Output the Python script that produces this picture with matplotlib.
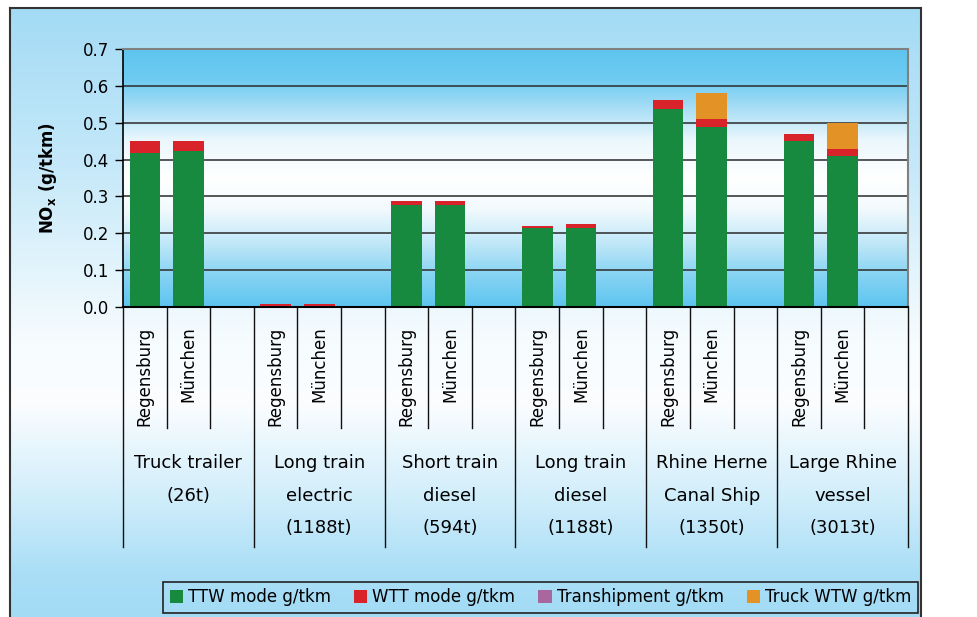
import numpy as np
import matplotlib
matplotlib.use("Agg")
import matplotlib.pyplot as plt
from matplotlib.colors import LinearSegmentedColormap
from matplotlib.patches import Patch

# ---------------------------------------------------------------------------
# Data (NOx in g/tkm, two terminals per transport mode)
# ---------------------------------------------------------------------------
modes = [
    "Truck trailer\n(26t)",
    "Long train\nelectric\n(1188t)",
    "Short train\ndiesel\n(594t)",
    "Long train\ndiesel\n(1188t)",
    "Rhine Herne\nCanal Ship\n(1350t)",
    "Large Rhine\nvessel\n(3013t)",
]
sites = ["Regensburg", "München"]

ttw_mode = [0.418, 0.423, 0.0, 0.0, 0.277, 0.277, 0.215, 0.215, 0.537, 0.488, 0.450, 0.411]
wtt_mode = [0.032, 0.027, 0.008, 0.008, 0.011, 0.011, 0.005, 0.010, 0.025, 0.022, 0.019, 0.018]
transhipment = [0.0] * 12
truck_wtw = [0.0, 0.0, 0.0, 0.0, 0.0, 0.0, 0.0, 0.0, 0.0, 0.070, 0.0, 0.070]

series_names = ["TTW mode g/tkm", "WTT mode g/tkm", "Transhipment g/tkm", "Truck WTW g/tkm"]
series_colors = ["#178a40", "#d9232b", "#a8679e", "#e39225"]

y_ticks = [0.0, 0.1, 0.2, 0.3, 0.4, 0.5, 0.6, 0.7]

# ---------------------------------------------------------------------------
# Figure + outer panel
# ---------------------------------------------------------------------------
W, H = 977, 617
fig = plt.figure(figsize=(W / 100, H / 100), dpi=100)
fig.patch.set_facecolor("white")


def fx(px):
    return px / W


def fy(py):
    return 1 - py / H


panel = fig.add_axes([fx(10), 0, fx(911), 609 / H], zorder=-1)
panel_cmap = LinearSegmentedColormap.from_list(
    "panel",
    [(0.0, "#a3dbf5"), (0.25, "#c4e8f9"), (0.55, "#f7fcfe"), (0.65, "#fbfdff"),
     (0.8, "#d2eefb"), (0.93, "#a9def6"), (1.0, "#a3dbf5")],
)
panel.imshow(np.linspace(0, 1, 256).reshape(-1, 1), cmap=panel_cmap,
             aspect="auto", extent=(0, 1, 0, 1), origin="upper")
panel.set_xlim(0, 1)
panel.set_ylim(0, 1)
panel.set_xticks([])
panel.set_yticks([])
for side in ["left", "top", "right"]:
    panel.spines[side].set_color("#333333")
    panel.spines[side].set_linewidth(1.5)
panel.spines["bottom"].set_visible(False)

# ---------------------------------------------------------------------------
# Main axes
# ---------------------------------------------------------------------------
ax = fig.add_axes([fx(123), fy(307), fx(785), 258 / H], zorder=1)
ax.set_facecolor("none")

n_slots = len(modes) * 3
ax.set_xlim(0, n_slots)
ax.set_ylim(0, 0.7)

plot_cmap = LinearSegmentedColormap.from_list(
    "plotbg",
    [(0.0, "#5ec5ef"), (0.12, "#6fcbf1"), (0.25, "#b3e2f7"), (0.35, "#eaf7fd"),
     (0.5, "#ffffff"), (0.62, "#f2fafe"), (0.75, "#c2e8f8"), (0.88, "#85d3f3"),
     (1.0, "#5ec5ef")],
)
ax.imshow(np.linspace(0, 1, 256).reshape(-1, 1), cmap=plot_cmap, aspect="auto",
          extent=(0, n_slots, 0, 0.7), origin="upper", zorder=0)

for yv in y_ticks[1:-1]:
    ax.axhline(yv, color="#2a2a2a", lw=1.1, zorder=1)

# stacked bars: two bars per mode, third slot of each group left empty
x_pos = []
for g in range(len(modes)):
    x_pos += [g * 3 + 0.5, g * 3 + 1.5]
x_pos = np.array(x_pos)

bottom = np.zeros(len(x_pos))
for vals, color in zip([ttw_mode, wtt_mode, transhipment, truck_wtw], series_colors):
    vals = np.array(vals)
    ax.bar(x_pos, vals, width=0.7, bottom=bottom, color=color, zorder=2)
    bottom += vals

# spines and y axis
ax.spines["left"].set_color("black")
ax.spines["left"].set_linewidth(1.2)
ax.spines["bottom"].set_color("black")
ax.spines["bottom"].set_linewidth(1.5)
for side in ["top", "right"]:
    ax.spines[side].set_color("#808080")
    ax.spines[side].set_linewidth(1.5)

ax.set_yticks(y_ticks)
ax.set_yticklabels([f"{v:.1f}" for v in y_ticks])
ax.tick_params(axis="y", direction="out", length=6, width=1, pad=4, labelsize=12)
ax.set_xticks([])

fig.text(fx(48), fy(178), "NO$_\\mathregular{x}$ (g/tkm)", rotation=90,
         ha="center", va="center", fontsize=12, fontweight="bold")

# category axis below the plot
xt = ax.get_xaxis_transform()
for s in range(n_slots + 1):
    y_end = -0.93 if s % 3 == 0 else -0.47
    ax.plot([s, s], [0, y_end], color="#111111", lw=1, transform=xt, clip_on=False)

for g, label in enumerate(modes):
    for k, site in enumerate(sites):
        ax.text(g * 3 + k + 0.5, -0.075, site, rotation=90, ha="center", va="top",
                fontsize=12, transform=xt)
    for row, line in enumerate(label.split("\n")):
        ax.text(g * 3 + 1.5, -0.605 - row * 0.126, line, ha="center", va="center",
                fontsize=13, transform=xt)

# legend
handles = [Patch(facecolor=c, edgecolor="none") for c in series_colors]
leg = fig.legend(handles, series_names, loc="lower left",
                 bbox_to_anchor=(fx(163), fy(613), fx(755), 41 / H),
                 mode="expand", ncol=4, borderaxespad=0, fontsize=12,
                 handlelength=0.8, handleheight=0.8, handletextpad=0.3,
                 columnspacing=0.6, fancybox=False, framealpha=1)
leg.get_frame().set_facecolor("none")
leg.get_frame().set_edgecolor("#222222")
leg.get_frame().set_linewidth(1.2)

fig.savefig("out.png", dpi=100)
